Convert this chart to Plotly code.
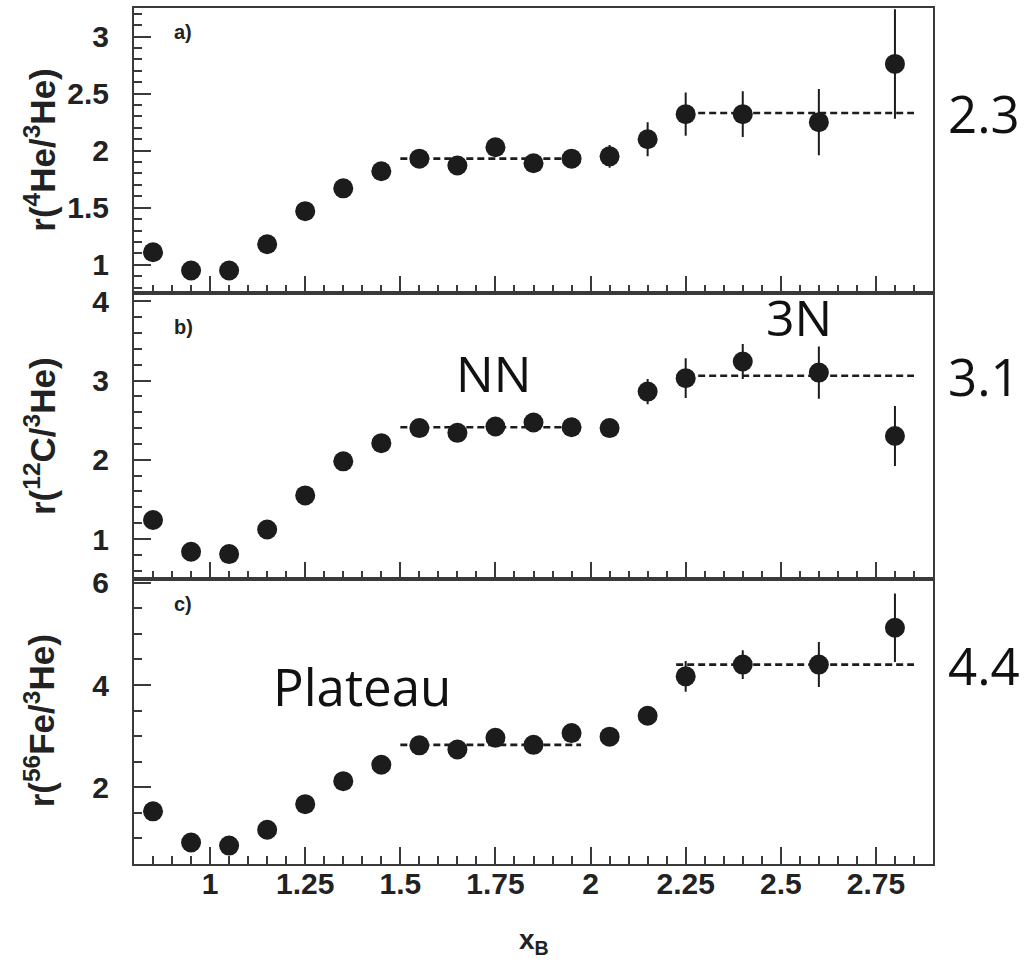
import plotly.graph_objects as go
from plotly.subplots import make_subplots

# Bjorken x bin centres
x_b = [0.85, 0.95, 1.05, 1.15, 1.25, 1.35, 1.45, 1.55, 1.65, 1.75,
       1.85, 1.95, 2.05, 2.15, 2.25, 2.4, 2.6, 2.8]

# Per-nucleon cross-section ratios and their uncertainties
r_he4 = [1.11, 0.95, 0.95, 1.18, 1.47, 1.67, 1.82, 1.93, 1.87, 2.03,
         1.89, 1.93, 1.95, 2.10, 2.32, 2.32, 2.25, 2.76]
e_he4 = [0.02, 0.02, 0.02, 0.02, 0.03, 0.03, 0.03, 0.04, 0.04, 0.05,
         0.05, 0.06, 0.10, 0.15, 0.19, 0.20, 0.29, 0.48]

r_c12 = [1.24, 0.84, 0.81, 1.12, 1.55, 1.98, 2.21, 2.40, 2.34, 2.42,
         2.47, 2.41, 2.40, 2.86, 3.03, 3.24, 3.10, 2.30]
e_c12 = [0.02, 0.02, 0.02, 0.02, 0.03, 0.03, 0.04, 0.04, 0.05, 0.05,
         0.06, 0.07, 0.09, 0.16, 0.25, 0.22, 0.33, 0.38]

r_fe56 = [1.53, 0.92, 0.86, 1.17, 1.67, 2.12, 2.44, 2.82, 2.74, 2.97,
          2.83, 3.06, 2.99, 3.40, 4.17, 4.40, 4.40, 5.12]
e_fe56 = [0.03, 0.03, 0.03, 0.03, 0.04, 0.05, 0.06, 0.07, 0.08, 0.09,
          0.10, 0.12, 0.14, 0.16, 0.30, 0.28, 0.44, 0.67]

# Plateau fits: 2N region and 3N region (level, x start, x end)
nn_level = [1.93, 2.41, 2.83]
nn_x = [1.5, 1.975]
n3_level = [2.33, 3.06, 4.40]
n3_x = [2.225, 2.85]
n3_text = ["2.3", "3.1", "4.4"]

panel_tags = ["a)", "b)", "c)"]
y_titles = ["r(<sup>4</sup>He/<sup>3</sup>He)",
            "r(<sup>12</sup>C/<sup>3</sup>He)",
            "r(<sup>56</sup>Fe/<sup>3</sup>He)"]
y_ranges = [[0.75, 3.25], [0.5, 4.1], [0.5, 6.08]]
y_major = [0.5, 1, 2]
y_minor = [0.1, 0.2, 0.5]
x_range = [0.8, 2.9]

ratios = [r_he4, r_c12, r_fe56]
errors = [e_he4, e_c12, e_fe56]

INK = "#1c1c1c"
FRAME = "#3a3a3a"
LABEL_FONT = "Liberation Sans"
NOTE_FONT = "Open Sans"

W, H = 1024, 963
ML, MR, MT, MB = 134, 91, 8, 99
PW = W - ML - MR
PH = H - MT - MB

fig = make_subplots(rows=3, cols=1, shared_xaxes=True, vertical_spacing=0)

for i in range(3):
    row = i + 1
    # plateau lines
    fig.add_trace(go.Scatter(
        x=nn_x, y=[nn_level[i]] * 2, mode="lines",
        line=dict(color=INK, width=2.6, dash="7px,4px"),
        showlegend=False, hoverinfo="skip"), row=row, col=1)
    fig.add_trace(go.Scatter(
        x=n3_x, y=[n3_level[i]] * 2, mode="lines",
        line=dict(color=INK, width=2.6, dash="7px,4px"),
        showlegend=False, hoverinfo="skip"), row=row, col=1)
    # data points with error bars
    fig.add_trace(go.Scatter(
        x=x_b, y=ratios[i], mode="markers",
        marker=dict(color=INK, size=20, line=dict(width=0)),
        error_y=dict(type="data", array=errors[i], visible=True,
                     color=INK, thickness=2, width=0),
        showlegend=False), row=row, col=1)

    fig.update_yaxes(
        range=y_ranges[i], dtick=y_major[i], tick0=0,
        ticks="inside", ticklen=17, tickwidth=2, tickcolor=FRAME,
        minor=dict(dtick=y_minor[i], ticks="inside", ticklen=8,
                   tickwidth=2, tickcolor=FRAME, showgrid=False),
        showline=True, linewidth=2, linecolor=FRAME, mirror=True,
        showgrid=False, zeroline=False, ticklabelstandoff=17,
        automargin=False,
        tickfont=dict(family=LABEL_FONT, size=30, color="#222222",
                      weight="bold"),
        row=row, col=1)

    fig.update_xaxes(
        range=x_range, dtick=0.25, tick0=1,
        ticks="inside", ticklen=17, tickwidth=2, tickcolor=FRAME,
        minor=dict(dtick=0.05, ticks="inside", ticklen=8,
                   tickwidth=2, tickcolor=FRAME, showgrid=False),
        showline=True, linewidth=2, linecolor=FRAME, mirror=True,
        showgrid=False, zeroline=False, ticklabelstandoff=-8,
        automargin=False,
        showticklabels=(row == 3),
        tickfont=dict(family=LABEL_FONT, size=30, color="#222222",
                      weight="bold"),
        row=row, col=1)

annotations = []
tag_offsets = [24, 34, 25]
for i in range(3):
    yref = "y" if i == 0 else f"y{i + 1}"
    top_px = MT + i * PH / 3
    centre_px = top_px + PH / 6
    # axis title
    annotations.append(dict(
        text=y_titles[i], textangle=-90, showarrow=False,
        xref="paper", yref="paper",
        x=(40 - ML) / PW, y=(H - MB - centre_px) / PH,
        xanchor="center", yanchor="middle",
        font=dict(family=LABEL_FONT, size=35, color="#222222",
                  weight="bold")))
    # panel tag
    annotations.append(dict(
        text=panel_tags[i], showarrow=False,
        xref="paper", yref="paper",
        x=(183 - ML) / PW, y=(H - MB - top_px - tag_offsets[i]) / PH,
        xanchor="center", yanchor="middle",
        font=dict(family=LABEL_FONT, size=20, color="#222222",
                  weight="bold")))
    # 3N plateau value
    annotations.append(dict(
        text=n3_text[i], showarrow=False,
        xref="paper", yref=yref, x=(984 - ML) / PW, y=n3_level[i],
        xanchor="center", yanchor="middle",
        font=dict(family=NOTE_FONT, size=51, color="#111111")))

annotations += [
    dict(text="NN", showarrow=False, xref="x2", yref="y2",
         x=1.745, y=3.1, xanchor="center", yanchor="middle",
         font=dict(family=NOTE_FONT, size=50, color="#111111")),
    dict(text="3N", showarrow=False, xref="x2", yref="y2",
         x=2.548, y=3.8, xanchor="center", yanchor="middle",
         font=dict(family=NOTE_FONT, size=50, color="#111111")),
    dict(text="Plateau", showarrow=False, xref="x3", yref="y3",
         x=1.40, y=3.98, xanchor="center", yanchor="middle",
         font=dict(family=NOTE_FONT, size=51, color="#111111")),
    dict(text="x<sub>B</sub>", showarrow=False, xref="paper", yref="paper",
         x=(534 - ML) / PW, y=(H - MB - 922) / PH,
         xanchor="center", yanchor="top",
         font=dict(family=LABEL_FONT, size=28, color="#222222",
                   weight="bold")),
]

fig.update_layout(
    width=W, height=H, autosize=False,
    margin=dict(l=ML, r=MR, t=MT, b=MB),
    paper_bgcolor="white", plot_bgcolor="white",
    annotations=annotations,
)

fig.write_html("out.html")
